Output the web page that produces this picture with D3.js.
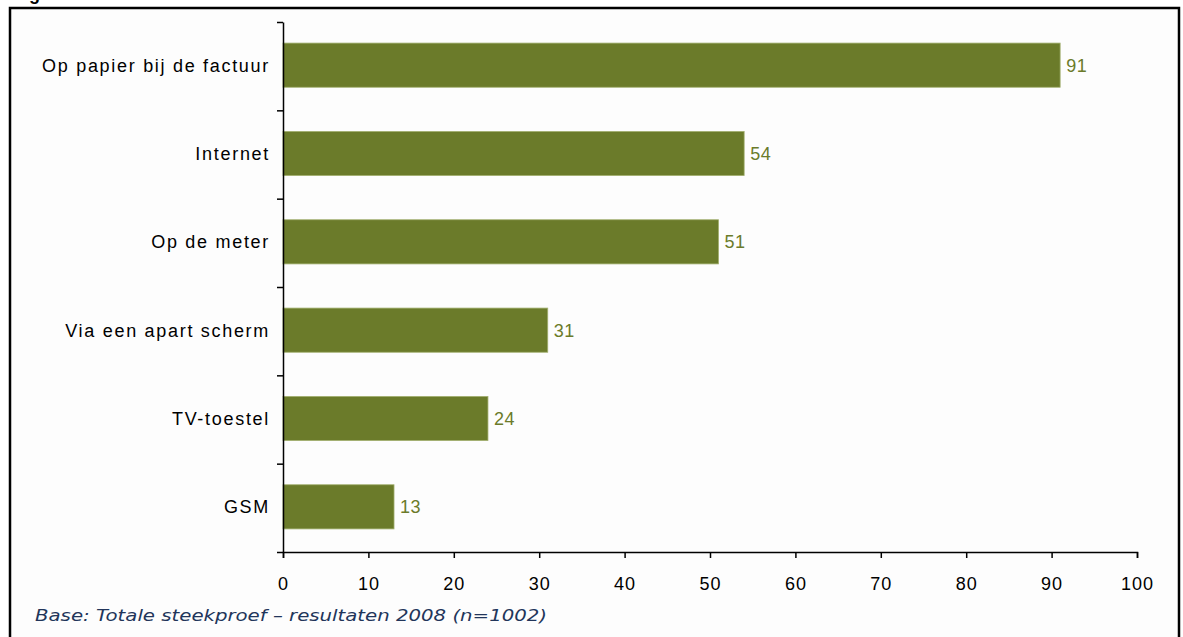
<!DOCTYPE html>
<html>
<head>
<meta charset="utf-8">
<script src="https://cdn.jsdelivr.net/npm/d3@7"></script>
<style>
  body { margin: 0; background: #fff; }
  svg text { font-family: 'Liberation Sans', Arial, sans-serif; }
</style>
</head>
<body>
<div id="bar-chart"></div>
<script>
const categories = [
  'Op papier bij de factuur',
  'Internet',
  'Op de meter',
  'Via een apart scherm',
  'TV-toestel',
  'GSM'
]
const values = [91, 54, 51, 31, 24, 13]
const xTicks = [0, 10, 20, 30, 40, 50, 60, 70, 80, 90, 100]
const footnote = 'Base: Totale steekproef \u2013 resultaten 2008 (n=1002)'

const datapoints = categories.map((c, i) => ({ category: c, value: values[i] }))

const svg = d3
  .select('#bar-chart')
  .append('svg')
  .attr('width', 1183)
  .attr('height', 637)

// cut-off title above the frame (only its descender shows)
svg
  .append('text')
  .attr('x', 29)
  .attr('y', -0.5)
  .attr('font-size', 18)
  .attr('font-weight', 'bold')
  .text('g')

// frame
svg
  .append('rect')
  .attr('x', 10)
  .attr('y', 8)
  .attr('width', 1169)
  .attr('height', 660)
  .attr('fill', '#fdfdfd')
  .attr('stroke', '#000')
  .attr('stroke-width', 2.5)

const xPositionScale = d3.scaleLinear().domain([0, 100]).range([283, 1137])

const yPositionScale = d3
  .scaleBand()
  .domain(categories)
  .range([21, 551])
  .paddingInner(0.5)
  .paddingOuter(0.25)

// bars
svg
  .selectAll('.bar')
  .data(datapoints)
  .enter()
  .append('rect')
  .attr('class', 'bar')
  .attr('x', xPositionScale(0))
  .attr('y', d => yPositionScale(d.category))
  .attr('width', d => xPositionScale(d.value) - xPositionScale(0))
  .attr('height', yPositionScale.bandwidth())
  .attr('fill', '#6b7b2a')
  .attr('stroke', '#a3b070')
  .attr('stroke-width', 0.8)

// value labels
svg
  .selectAll('.value')
  .data(datapoints)
  .enter()
  .append('text')
  .attr('class', 'value')
  .attr('x', d => xPositionScale(d.value) + 6)
  .attr('y', d => yPositionScale(d.category) + yPositionScale.bandwidth() / 2)
  .attr('dy', '0.36em')
  .attr('font-size', 18)
  .attr('letter-spacing', 0.5)
  .attr('fill', '#6b7b2a')
  .text(d => d.value)

// x axis
const xAxis = d3
  .axisBottom(xPositionScale)
  .tickValues(xTicks)
  .tickSize(6)
  .tickSizeOuter(6)

svg
  .append('g')
  .attr('class', 'axis x-axis')
  .attr('transform', 'translate(0,552)')
  .call(xAxis)

svg.selectAll('.x-axis text')
  .attr('y', 25)
  .attr('font-size', 18)
  .attr('letter-spacing', 1)
  .attr('fill', '#000')

// y axis: ticks between categories
const yAxisScale = d3
  .scaleLinear()
  .domain([0, categories.length])
  .range([22, 552])

const yAxis = d3
  .axisLeft(yAxisScale)
  .ticks(categories.length)
  .tickSize(6)
  .tickSizeOuter(0)
  .tickFormat('')

svg
  .append('g')
  .attr('class', 'axis y-axis')
  .attr('transform', 'translate(283,0)')
  .call(yAxis)

svg.selectAll('.axis path, .axis line')
  .attr('stroke', '#000')
  .attr('stroke-width', 1.5)

// category labels
svg
  .selectAll('.cat')
  .data(categories)
  .enter()
  .append('text')
  .attr('class', 'cat')
  .attr('x', 270)
  .attr('y', d => yPositionScale(d) + yPositionScale.bandwidth() / 2)
  .attr('dy', '0.36em')
  .attr('text-anchor', 'end')
  .attr('font-size', 18)
  .attr('letter-spacing', 1.7)
  .attr('fill', '#000')
  .text(d => d)

// footnote
svg
  .append('text')
  .attr('x', 35)
  .attr('y', 621)
  .attr('font-size', 16)
  .attr('font-style', 'italic')
  .attr('fill', '#22355a')
  .style('font-family', "'DejaVu Sans', Verdana, sans-serif")
  .attr('textLength', 512)
  .attr('lengthAdjust', 'spacingAndGlyphs')
  .text(footnote)
</script>
</body>
</html>
